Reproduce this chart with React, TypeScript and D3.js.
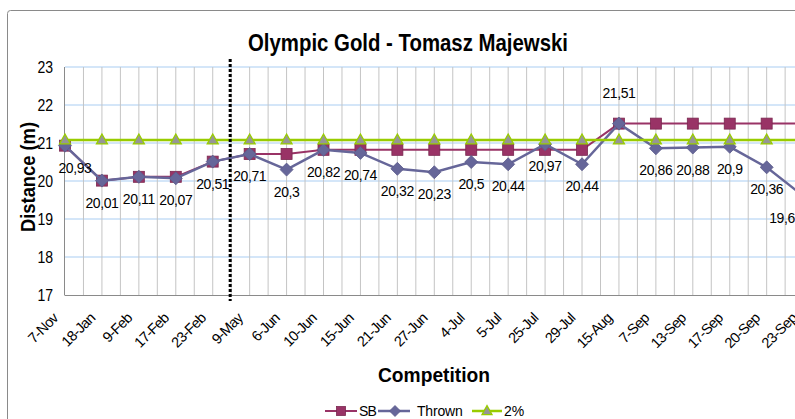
import React from 'react';
import * as d3 from 'd3';

const categories = ['7-Nov', '18-Jan', '9-Feb', '17-Feb', '23-Feb', '9-May', '6-Jun', '10-Jun', '15-Jun', '21-Jun', '27-Jun', '4-Jul', '5-Jul', '25-Jul', '29-Jul', '15-Aug', '7-Sep', '13-Sep', '17-Sep', '20-Sep', '23-Sep'];
const sbValues = [20.93, 20.01, 20.11, 20.11, 20.51, 20.71, 20.71, 20.82, 20.82, 20.82, 20.82, 20.82, 20.82, 20.82, 20.82, 21.51, 21.51, 21.51, 21.51, 21.51, 21.51];
const thrownValues = [20.93, 20.01, 20.11, 20.07, 20.51, 20.71, 20.3, 20.82, 20.74, 20.32, 20.23, 20.5, 20.44, 20.97, 20.44, 21.51, 20.86, 20.88, 20.9, 20.36, 19.6];
const pctValues = [21.08, 21.08, 21.08, 21.08, 21.08, 21.08, 21.08, 21.08, 21.08, 21.08, 21.08, 21.08, 21.08, 21.08, 21.08, 21.08, 21.08, 21.08, 21.08, 21.08, 21.08];
const yTicks = [17, 18, 19, 20, 21, 22, 23];
const dividerAfter = '23-Feb';
const dividerBefore = '9-May';

const W = 795;
const H = 419;
const X0 = 65;
const STEP = 36.93;
const Y_TOP = 67;
const Y_BOT = 295;
const FONT = '"Liberation Sans", Arial, sans-serif';
const SB_COLOR = '#993366';
const TH_COLOR = '#666699';
const GREEN = '#99CC00';
const TRI_FILL = '#969696';

const fmt = (v: number) => String(v).replace('.', ',');

function Square({ x, y, s = 11 }: { x: number; y: number; s?: number }) {
  return <rect x={x - s / 2} y={y - s / 2} width={s} height={s} fill={SB_COLOR} stroke="#7a2850" strokeWidth={0.8} />;
}
function Diamond({ x, y, r = 6.5 }: { x: number; y: number; r?: number }) {
  return <path d={`M${x},${y - r}L${x + r},${y}L${x},${y + r}L${x - r},${y}Z`} fill={TH_COLOR} stroke="#5a5a8a" strokeWidth={0.8} />;
}
function Triangle({ x, y, s = 11 }: { x: number; y: number; s?: number }) {
  const h = s * 0.9;
  return <path d={`M${x},${y - h * 0.6}L${x + s / 2},${y + h * 0.4}L${x - s / 2},${y + h * 0.4}Z`} fill={TRI_FILL} stroke={GREEN} strokeWidth={1.3} />;
}

export default function App() {
  const x = d3.scalePoint<string>().domain(categories).range([X0, X0 + STEP * (categories.length - 1)]);
  const y = d3.scaleLinear().domain([17, 23]).range([Y_BOT, Y_TOP]);
  const xRight = X0 + STEP * (categories.length - 1) + STEP;

  const line = d3.line<number>().x((_, i) => x(categories[i]) as number).y((d) => y(d));

  const minorGrid: number[] = [];
  for (let k = 1; X0 + (k * STEP) / 2 <= xRight; k++) minorGrid.push(X0 + (k * STEP) / 2);

  const divX = ((x(dividerAfter) as number) + (x(dividerBefore) as number)) / 2 - 1;
  const pctLevel = pctValues[0];

  return (
    <svg width={W} height={H} style={{ position: 'absolute', left: 0, top: 0, background: '#fff' }} fontFamily={FONT}>
      <rect x={7.5} y={10.5} width={1000} height={1000} rx={3} fill="#fff" stroke="#8a8a8a" strokeWidth={1} />

      {/* horizontal grid */}
      {yTicks.filter((t) => t > 17).map((t) => (
        <line key={'h' + t} x1={X0} x2={xRight} y1={y(t)} y2={y(t)} stroke="#a9cdf2" strokeWidth={1} />
      ))}
      {/* vertical grid */}
      {minorGrid.map((gx, i) => (
        <line key={'v' + i} x1={gx} x2={gx} y1={Y_TOP} y2={Y_BOT} stroke="#c4c4c4" strokeWidth={1} />
      ))}
      {/* axes */}
      <line x1={X0 - 0.5} x2={X0 - 0.5} y1={Y_TOP} y2={Y_BOT} stroke="#8a8a8a" strokeWidth={1} />
      <line x1={X0 - 0.5} x2={xRight} y1={Y_BOT + 0.5} y2={Y_BOT + 0.5} stroke="#8a8a8a" strokeWidth={1} />

      {/* y tick labels */}
      {yTicks.map((t) => (
        <text key={'yt' + t} x={53} y={y(t) + 6} textAnchor="end" fontSize={16} textLength={15.6} lengthAdjust="spacingAndGlyphs" fill="#000">
          {t}
        </text>
      ))}

      {/* x tick labels */}
      {categories.map((c) => (
        <text key={'xt' + c} transform={`translate(${(x(c) as number) - 6},319) rotate(-45)`} textAnchor="end" fontSize={14.5} letterSpacing={-0.7} fill="#000">
          {c}
        </text>
      ))}

      {/* SB series */}
      <path d={line(sbValues) || ''} fill="none" stroke={SB_COLOR} strokeWidth={2} />
      {sbValues.map((v, i) => (
        <Square key={'sb' + i} x={x(categories[i]) as number} y={y(v)} />
      ))}

      {/* Thrown series */}
      <path d={line(thrownValues) || ''} fill="none" stroke={TH_COLOR} strokeWidth={2.5} />
      {thrownValues.map((v, i) => (
        <Diamond key={'th' + i} x={x(categories[i]) as number} y={y(v)} />
      ))}

      {/* 2% series */}
      <path d={line(pctValues) || ''} fill="none" stroke={GREEN} strokeWidth={2.5} />
      {pctValues.map((v, i) => (
        <Triangle key={'pc' + i} x={x(categories[i]) as number} y={y(v)} />
      ))}

      {/* data labels */}
      {thrownValues.map((v, i) => {
        const px = Math.min(Math.max(x(categories[i]) as number, X0 + 10), W - 13);
        const py = y(v);
        const above = v > pctLevel;
        return (
          <text key={'dl' + i} x={px} y={above ? py - 26 : py + 27} textAnchor="middle" fontSize={14} letterSpacing={-0.4} fill="#000">
            {fmt(v)}
          </text>
        );
      })}

      {/* divider */}
      <line x1={divX} x2={divX} y1={59} y2={301} stroke="#000" strokeWidth={3} strokeDasharray="3,2" />

      {/* title */}
      <text x={408} y={50.5} textAnchor="middle" fontSize={24} fontWeight="bold" textLength={320} lengthAdjust="spacingAndGlyphs">
        Olympic Gold - Tomasz Majewski
      </text>
      {/* axis titles */}
      <text transform="translate(34.5,177) rotate(-90)" textAnchor="middle" fontSize={21} fontWeight="bold" textLength={110} lengthAdjust="spacingAndGlyphs">
        Distance (m)
      </text>
      <text x={434} y={382} textAnchor="middle" fontSize={21} fontWeight="bold" textLength={112} lengthAdjust="spacingAndGlyphs">
        Competition
      </text>

      {/* legend */}
      <g>
        <line x1={325} x2={357} y1={411} y2={411} stroke={SB_COLOR} strokeWidth={2} />
        <Square x={341} y={411} s={9} />
        <text x={359} y={416} fontSize={14} letterSpacing={-0.8}>SB</text>
        <line x1={378} x2={410} y1={411} y2={411} stroke={TH_COLOR} strokeWidth={2.5} />
        <Diamond x={395} y={411} r={5.5} />
        <text x={417} y={416} fontSize={14} letterSpacing={-0.2}>Thrown</text>
        <line x1={472} x2={502} y1={411} y2={411} stroke={GREEN} strokeWidth={2.5} />
        <Triangle x={487} y={411} s={10} />
        <text x={504} y={416} fontSize={14}>2%</text>
      </g>
    </svg>
  );
}
